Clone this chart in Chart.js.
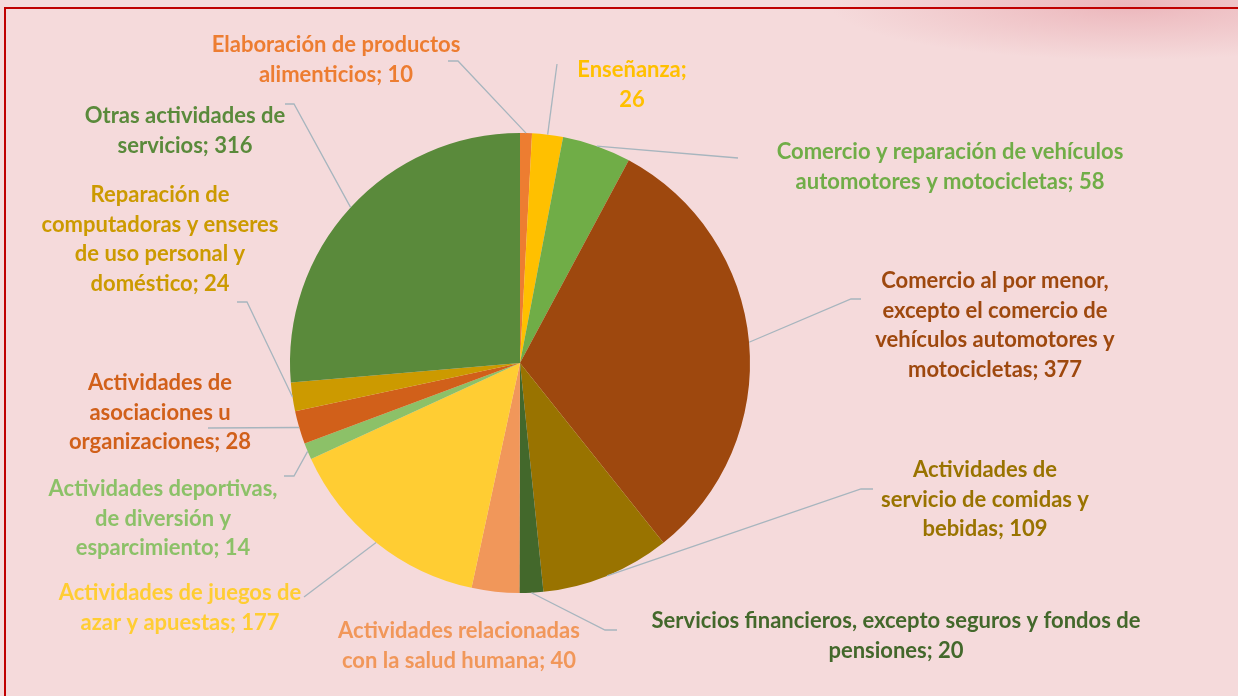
<!DOCTYPE html>
<html>
<head>
<meta charset="utf-8">
<script src="https://cdn.jsdelivr.net/npm/chart.js@4"></script>
<style>
  html, body { margin: 0; padding: 0; }
  body {
    width: 1238px; height: 696px; overflow: hidden; position: relative;
    background-color: #F5DADB;
    background-image: radial-gradient(ellipse 300px 55px at 1130px 5px, rgba(225,140,150,0.45), rgba(225,140,150,0) 100%);
  }
  #marco {
    position: absolute; left: 4px; top: 7px; width: 1250px; height: 700px;
    border-left: 2px solid #C00000; border-top: 2px solid #C00000;
  }
  #grafico { position: absolute; left: 0; top: 0; }
</style>
</head>
<body>
<div id="marco"></div>
<canvas id="grafico" width="1238" height="696"></canvas>
<script>
// Datos del gráfico (sentido horario desde arriba)
const categorias = [
  'Elaboración de productos alimenticios',
  'Enseñanza',
  'Comercio y reparación de vehículos automotores y motocicletas',
  'Comercio al por menor, excepto el comercio de vehículos automotores y motocicletas',
  'Actividades de servicio de comidas y bebidas',
  'Servicios financieros, excepto seguros y fondos de pensiones',
  'Actividades relacionadas con la salud humana',
  'Actividades de juegos de azar y apuestas',
  'Actividades deportivas, de diversión y esparcimiento',
  'Actividades de asociaciones u organizaciones',
  'Reparación de computadoras y enseres de uso personal y doméstico',
  'Otras actividades de servicios'
];
const valores = [10, 26, 58, 377, 109, 20, 40, 177, 14, 28, 24, 316];

const colores = [
  '#ED7D31', '#FFC000', '#70AD47', '#9E480E', '#997300', '#43682B',
  '#F1975A', '#FFCD33', '#8CC168', '#D1601A', '#CC9A00', '#5A8A3B'
];

// Cuántas palabras van en cada renglón de la etiqueta
const palabrasPorLinea = [
  [3, 2], [1, 1], [5, 4], [4, 4, 3, 2], [2, 4, 2], [7, 2],
  [2, 5], [4, 4], [2, 3, 2], [2, 2, 2], [2, 3, 4, 2], [3, 2]
];

// Posición de cada etiqueta (centro x, y del primer renglón) y su línea guía
const etiquetas = [
  { x: 336, y: 45,  fin: [448, 61],  codo: 10 },
  { x: 632, y: 70,  fin: [557, 64],  codo: 0 },
  { x: 950, y: 152, fin: [738, 158], codo: 0 },
  { x: 995, y: 281, fin: [861, 299], codo: -10 },
  { x: 985, y: 470, fin: [873, 489], codo: -12 },
  { x: 896, y: 621, fin: [617, 630], codo: -12 },
  { x: 459, y: 631, fin: null,       codo: 0 },
  { x: 180, y: 593, fin: [304, 597], codo: 0 },
  { x: 163, y: 489, fin: [284, 476], codo: 10 },
  { x: 160, y: 383, fin: [208, 428], codo: 0 },
  { x: 160, y: 195, fin: [237, 302], codo: 10 },
  { x: 185, y: 116, fin: [285, 104], codo: 9 }
];
const interlineado = 29.5;

function lineasEtiqueta(i) {
  const palabras = (categorias[i] + '; ' + valores[i]).split(' ');
  const lineas = [];
  let k = 0;
  palabrasPorLinea[i].forEach(n => {
    lineas.push(palabras.slice(k, k + n).join(' '));
    k += n;
  });
  return lineas;
}

const etiquetasPlugin = {
  id: 'etiquetasExternas',
  afterDraw(chart) {
    const ctx = chart.ctx;
    const arcos = chart.getDatasetMeta(0).data;
    ctx.save();

    // líneas guía
    ctx.strokeStyle = '#A7B5BE';
    ctx.lineWidth = 1.3;
    arcos.forEach((arco, i) => {
      const et = etiquetas[i];
      if (!et.fin) return;
      const ang = (arco.startAngle + arco.endAngle) / 2;
      const px = arco.x + Math.cos(ang) * arco.outerRadius;
      const py = arco.y + Math.sin(ang) * arco.outerRadius;
      ctx.beginPath();
      ctx.moveTo(px, py);
      ctx.lineTo(et.fin[0] + et.codo, et.fin[1]);
      ctx.lineTo(et.fin[0], et.fin[1]);
      ctx.stroke();
    });

    // textos
    ctx.font = 'bold 22px Lato';
    ctx.textAlign = 'center';
    ctx.textBaseline = 'middle';
    etiquetas.forEach((et, i) => {
      ctx.fillStyle = colores[i];
      lineasEtiqueta(i).forEach((t, j) => {
        ctx.fillText(t, et.x, et.y + j * interlineado);
      });
    });
    ctx.restore();
  }
};

new Chart(document.getElementById('grafico'), {
  type: 'pie',
  data: {
    labels: categorias,
    datasets: [{
      data: valores,
      backgroundColor: colores,
      borderWidth: 0
    }]
  },
  options: {
    responsive: false,
    animation: false,
    devicePixelRatio: 1,
    layout: { padding: { left: 290, right: 488, top: 133, bottom: 103 } },
    plugins: {
      legend: { display: false },
      tooltip: { enabled: false }
    }
  },
  plugins: [etiquetasPlugin]
});
</script>
</body>
</html>
